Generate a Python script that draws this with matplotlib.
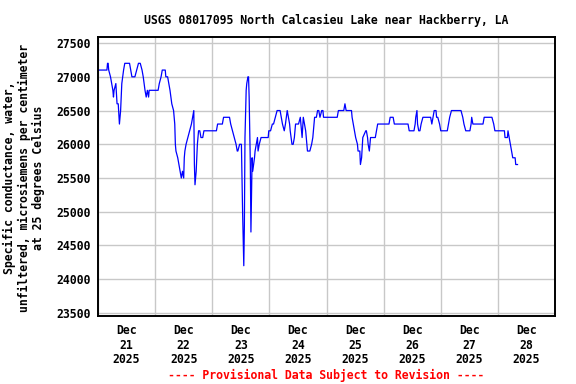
import matplotlib
matplotlib.use("Agg")
import matplotlib.pyplot as plt
import matplotlib.dates as mdates
import numpy as np
from datetime import datetime, timedelta

# Hours since 2025-12-21 00:00 and specific conductance (uS/cm)
hours = [0, 3.75, 4.0, 4.25, 4.5, 5.25, 5.75, 6.25, 6.5, 6.75, 7.5, 8.0, 8.5, 9.0, 9.5,
         10, 10.75, 11.25, 13.25, 13.75, 14.25, 15.5, 16.25, 17, 17.75, 18.5, 19, 19.75,
         20.25, 20.75, 21.25, 21.5, 25.25, 25.75, 26.5, 27, 28.25, 28.5, 29.25, 30.25, 31,
         31.75, 32.25, 32.5, 32.75, 33.5, 34, 34.5, 35, 35.5, 36, 36.25, 36.5, 37, 37.75,
         38.5, 39.25, 39.75, 40.25, 40.5, 40.75, 41.25, 41.5, 41.75, 42.25, 42.75, 43.25,
         44, 44.5, 49.75, 50.25, 52.25, 52.75, 55.25, 55.75, 56.5, 57.25, 58, 58.5, 58.75,
         59.5, 60.25, 60.75, 61.25, 61.5, 61.75, 62.25, 62.5, 63, 63.25, 63.5, 64, 64.25,
         64.5, 64.75, 65, 65.75, 66, 66.5, 67, 67.25, 67.75, 68.5, 71.5, 71.75, 72.5, 73.25,
         73.75, 74.5, 75.25, 76.5, 77, 77.5, 78.25, 78.75, 79.5, 80, 80.5, 80.75, 81.5, 82,
         82.5, 83, 84.25, 85, 85.5, 85.75, 86.25, 86.75, 87.25, 87.5, 88, 89, 89.75, 90.25,
         90.75, 91, 91.75, 92.25, 92.75, 93.25, 94, 94.5, 94.75, 100.5, 101, 103.25, 103.75,
         104.25, 106.5, 106.75, 107.25, 107.75, 108.25, 109, 109.25, 110, 110.25, 110.75,
         111.25, 112.5, 112.75, 113.25, 113.5, 114, 114.5, 116.5, 117, 117.5, 122.25, 122.75,
         124, 124.5, 130.25, 130.75, 132.75, 133.25, 133.5, 134, 134.25, 134.75, 135.25,
         135.75, 136.5, 139.75, 140.25, 140.75, 141.25, 142, 142.25, 142.75, 143.5, 144,
         146.75, 147.25, 147.75, 148.5, 152.5, 153.25, 153.75, 154.5, 156.25, 156.75, 157,
         157.5, 161.75, 162.25, 165.5, 166.25, 166.75, 170.75, 171, 172, 172.25, 172.75,
         173.25, 173.75, 174.25, 175.25, 175.5, 176.25]
values = [27100, 27100, 27200, 27200, 27100, 27000, 26900, 26800, 26700, 26800, 26900, 26600,
          26600, 26300, 26500, 26900, 27100, 27200, 27200, 27100, 27000, 27000, 27100, 27200,
          27200, 27100, 27000, 26800, 26700, 26800, 26700, 26800, 26800, 26900, 27000, 27100,
          27100, 27000, 27000, 26800, 26600, 26500, 26300, 26000, 25900, 25800, 25700, 25600,
          25500, 25600, 25500, 25800, 25900, 26000, 26100, 26200, 26300, 26400, 26500, 25700,
          25400, 25600, 25800, 26000, 26200, 26200, 26100, 26100, 26200, 26200, 26300, 26300,
          26400, 26400, 26300, 26200, 26100, 26000, 25900, 25900, 26000, 26000, 25000, 24200,
          24800, 26100, 26800, 26900, 27000, 27000, 26700, 25700, 24700, 25300, 25800, 25600,
          25800, 25900, 26000, 26100, 25900, 26000, 26100, 26100, 26200, 26200, 26300, 26300,
          26400, 26500, 26500, 26400, 26300, 26200, 26300, 26500, 26400, 26300, 26200, 26000,
          26000, 26100, 26300, 26300, 26400, 26200, 26100, 26400, 26300, 26200, 26100, 25900,
          25900, 26000, 26100, 26300, 26400, 26400, 26500, 26500, 26400, 26500, 26500, 26400,
          26400, 26500, 26500, 26600, 26500, 26500, 26400, 26300, 26200, 26100, 26000, 25900,
          25900, 25700, 25800, 26100, 26200, 26200, 26100, 26000, 25900, 26100, 26100, 26200,
          26300, 26300, 26400, 26400, 26300, 26300, 26200, 26200, 26300, 26400, 26500, 26300,
          26200, 26200, 26300, 26400, 26400, 26300, 26400, 26500, 26500, 26400, 26400, 26300,
          26200, 26200, 26300, 26400, 26500, 26500, 26400, 26300, 26200, 26200, 26300, 26400,
          26300, 26300, 26400, 26400, 26300, 26200, 26200, 26100, 26100, 26200, 26100, 26000,
          25900, 25800, 25800, 25700, 25700]

title = "USGS 08017095 North Calcasieu Lake near Hackberry, LA"
ylabel = "Specific conductance, water,\nunfiltered, microsiemens per centimeter\nat 25 degrees Celsius"
footer = "---- Provisional Data Subject to Revision ----"
yticks = [23500, 24000, 24500, 25000, 25500, 26000, 26500, 27000, 27500]
day_labels = ["Dec\n21\n2025", "Dec\n22\n2025", "Dec\n23\n2025", "Dec\n24\n2025",
              "Dec\n25\n2025", "Dec\n26\n2025", "Dec\n27\n2025", "Dec\n28\n2025"]

start = datetime(2025, 12, 21)
times = [start + timedelta(hours=h) for h in hours]

FONT = "DejaVu Sans Mono"
fig = plt.figure(figsize=(5.76, 3.84), dpi=100)
ax = fig.add_axes([98/576, 1-316/384, 457/576, 279/384])

ax.plot(times, values, color="#0000ff", linewidth=0.9)

ax.set_xlim(start, start + timedelta(days=8))
ax.set_ylim(23455, 27590)

midnights = [start + timedelta(days=i) for i in range(9)]
noons = [start + timedelta(days=i, hours=12) for i in range(8)]
ax.set_xticks(midnights)
ax.set_xticklabels([])
ax.set_xticks(noons, minor=True)
ax.set_xticklabels(day_labels, minor=True, fontfamily=FONT, fontweight="bold",
                   fontsize=8.3, linespacing=1.15)
ax.tick_params(axis="x", which="both", length=0, pad=6)
ax.set_yticks(yticks)
ax.set_yticklabels([str(v) for v in yticks], fontfamily=FONT, fontweight="bold", fontsize=8.3)
ax.tick_params(axis="y", length=0, pad=5)

ax.grid(True, which="major", color="#c8c8c8", linewidth=1.0)
ax.set_axisbelow(True)
for s in ax.spines.values():
    s.set_linewidth(1.4)
    s.set_color("black")

fig.text(326/576, 1-20/384, title, ha="center", va="center", fontfamily=FONT,
         fontweight="bold", fontsize=8.3)
fig.text(24/576, 1-178/384, ylabel, ha="center", va="center", rotation=90,
         fontfamily=FONT, fontweight="bold", fontsize=8.3, linespacing=1.15)
fig.text(326/576, 1-375/384, footer, ha="center", va="center", fontfamily=FONT,
         fontweight="bold", fontsize=8.3, color="#ff0000")

fig.savefig("out.png", dpi=100)
